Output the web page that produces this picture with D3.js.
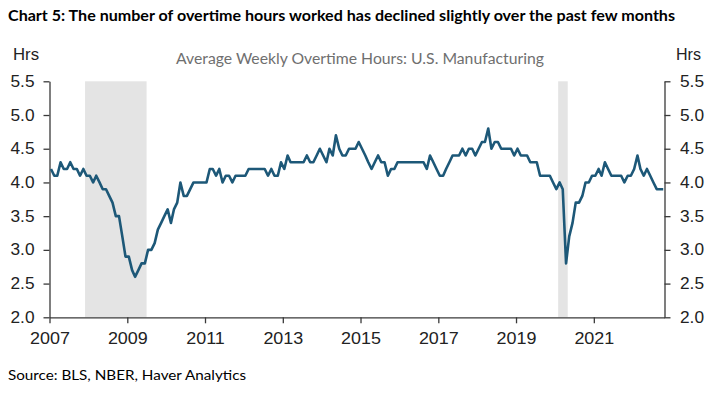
<!DOCTYPE html>
<html>
<head>
<meta charset="utf-8">
<script src="https://cdn.jsdelivr.net/npm/d3@7"></script>
<style>
  body { margin: 0; background: #fff; }
  svg { display: block; }
  .tick text { font-family: "Liberation Sans", Arial, sans-serif; font-size: 16px; fill: #222; }
  .tick line, .domain { stroke: #3a3a3a; stroke-width: 1.3; }
</style>
</head>
<body>
<svg id="chart" width="725" height="396"></svg>
<script>
// Average weekly overtime hours, U.S. manufacturing, monthly from Jan 2007
const startYear = 2007;
const hours2007to2010 = [
  4.2, 4.1, 4.1, 4.3, 4.2, 4.2, 4.3, 4.2, 4.2, 4.1, 4.2, 4.1,
  4.1, 4.0, 4.1, 4.0, 3.9, 3.9, 3.8, 3.7, 3.5, 3.5, 3.2, 2.9,
  2.9, 2.7, 2.6, 2.7, 2.8, 2.8, 3.0, 3.0, 3.1, 3.3, 3.4, 3.5,
  3.6, 3.4, 3.6, 3.7, 4.0, 3.8, 3.8, 3.9, 4.0, 4.0, 4.0, 4.0
];
const hours2011to2014 = [
  4.0, 4.2, 4.2, 4.1, 4.2, 4.0, 4.1, 4.1, 4.0, 4.1, 4.1, 4.1,
  4.1, 4.2, 4.2, 4.2, 4.2, 4.2, 4.2, 4.1, 4.2, 4.1, 4.1, 4.3,
  4.2, 4.4, 4.3, 4.3, 4.3, 4.3, 4.3, 4.4, 4.3, 4.3, 4.4, 4.5,
  4.4, 4.3, 4.5, 4.4, 4.7, 4.5, 4.4, 4.4, 4.5, 4.5, 4.5, 4.6
];
const hours2015to2018 = [
  4.5, 4.4, 4.3, 4.2, 4.3, 4.4, 4.3, 4.3, 4.1, 4.2, 4.2, 4.3,
  4.3, 4.3, 4.3, 4.3, 4.3, 4.3, 4.3, 4.3, 4.2, 4.4, 4.3, 4.2,
  4.1, 4.1, 4.2, 4.3, 4.4, 4.4, 4.4, 4.5, 4.4, 4.5, 4.5, 4.4,
  4.5, 4.6, 4.6, 4.8, 4.5, 4.6, 4.6, 4.5, 4.5, 4.5, 4.5, 4.4
];
const hours2019to2022 = [
  4.5, 4.4, 4.4, 4.4, 4.3, 4.3, 4.3, 4.1, 4.1, 4.1, 4.1, 4.0,
  3.9, 4.0, 3.9, 2.8, 3.2, 3.4, 3.7, 3.7, 3.8, 4.0, 4.0, 4.1,
  4.1, 4.2, 4.1, 4.3, 4.2, 4.1, 4.1, 4.1, 4.1, 4.0, 4.1, 4.1,
  4.2, 4.4, 4.2, 4.1, 4.2, 4.1, 4.0, 3.9, 3.9, 3.9
];
// NBER recessions: [first month, month after last]
const recessions = [
  ["2007-12-01", "2009-07-01"],
  ["2020-02-01", "2020-05-01"]
];
const yTicks = [2.0, 2.5, 3.0, 3.5, 4.0, 4.5, 5.0, 5.5];
const xTickYears = [2007, 2009, 2011, 2013, 2015, 2017, 2019, 2021];

const titleText = "Chart 5: The number of overtime hours worked has declined slightly over the past few months";
const subtitleText = "Average Weekly Overtime Hours: U.S. Manufacturing";
const sourceText = "Source: BLS, NBER, Haver Analytics";
const unitText = "Hrs";

const values = hours2007to2010.concat(hours2011to2014, hours2015to2018, hours2019to2022);
const data = values.map((v, i) => ({ date: new Date(startYear, i, 15), value: v }));

const plotLeft = 49.5, plotRight = 664.5, plotTop = 81.3, plotBottom = 317.3;
const svg = d3.select("#chart");

const x = d3.scaleTime()
  .domain([new Date(startYear, 0, 1), new Date(2022, 9, 27)])
  .range([plotLeft, plotRight]);

const y = d3.scaleLinear()
  .domain([2.0, 5.5])
  .range([plotBottom, plotTop]);

const parseDay = d3.timeParse("%Y-%m-%d");

// widen the axis labels a little, the source font is broader than Arial
function stretch(sel, k) {
  sel.selectAll(".tick text").each(function() {
    const w = this.getComputedTextLength();
    d3.select(this).attr("textLength", w * k).attr("lengthAdjust", "spacingAndGlyphs");
  });
}

// recession shading
svg.append("g")
  .selectAll("rect")
  .data(recessions)
  .enter()
  .append("rect")
  .attr("x", d => x(parseDay(d[0])))
  .attr("width", d => x(parseDay(d[1])) - x(parseDay(d[0])))
  .attr("y", y(5.5))
  .attr("height", y(2.0) - y(5.5))
  .attr("fill", "#e4e4e4");

// axes
svg.append("g")
  .attr("transform", "translate(" + plotLeft + ",0)")
  .call(d3.axisLeft(y).tickValues(yTicks).tickFormat(d3.format(".1f")).tickSize(6).tickSizeOuter(0).tickPadding(9))
  .call(stretch, 1.08);

svg.append("g")
  .attr("transform", "translate(" + plotRight + ",0)")
  .call(d3.axisRight(y).tickValues(yTicks).tickFormat(d3.format(".1f")).tickSize(6).tickSizeOuter(0).tickPadding(9.5))
  .call(stretch, 1.08);

svg.append("g")
  .attr("transform", "translate(0," + plotBottom + ")")
  .call(d3.axisBottom(x)
    .tickValues(xTickYears.map(yr => new Date(yr, 0, 1)))
    .tickFormat(d3.timeFormat("%Y"))
    .tickSize(6).tickSizeOuter(0).tickPadding(9))
  .call(stretch, 1.12);

// the series
const line = d3.line()
  .x(d => x(d.date))
  .y(d => y(d.value));

svg.append("path")
  .datum(data)
  .attr("d", line)
  .attr("fill", "none")
  .attr("stroke", "#1d5878")
  .attr("stroke-width", 2.6)
  .attr("stroke-linejoin", "round");

// texts
svg.append("text")
  .attr("x", 8).attr("y", 21)
  .attr("textLength", 667).attr("lengthAdjust", "spacingAndGlyphs")
  .style("font-family", "Lato, 'Open Sans', sans-serif")
  .style("font-weight", "bold").style("font-size", "15px").style("fill", "#000")
  .text(titleText);

svg.append("text")
  .attr("x", 360).attr("y", 63.5).attr("text-anchor", "middle")
  .attr("textLength", 368).attr("lengthAdjust", "spacingAndGlyphs")
  .style("font-family", "Lato, 'Open Sans', sans-serif")
  .style("font-size", "14.5px").style("fill", "#6f6f6f")
  .text(subtitleText);

svg.append("text")
  .attr("x", 13).attr("y", 60)
  .attr("textLength", 26).attr("lengthAdjust", "spacingAndGlyphs")
  .style("font-family", "'Liberation Sans', Arial, sans-serif")
  .style("font-size", "16px").style("fill", "#222")
  .text(unitText);

svg.append("text")
  .attr("x", 676).attr("y", 59.5)
  .attr("textLength", 25).attr("lengthAdjust", "spacingAndGlyphs")
  .style("font-family", "'Liberation Sans', Arial, sans-serif")
  .style("font-size", "16px").style("fill", "#222")
  .text(unitText);

svg.append("text")
  .attr("x", 8).attr("y", 380)
  .attr("textLength", 238).attr("lengthAdjust", "spacingAndGlyphs")
  .style("font-family", "Lato, 'Open Sans', sans-serif")
  .style("font-size", "14px").style("fill", "#000")
  .text(sourceText);
</script>
</body>
</html>
